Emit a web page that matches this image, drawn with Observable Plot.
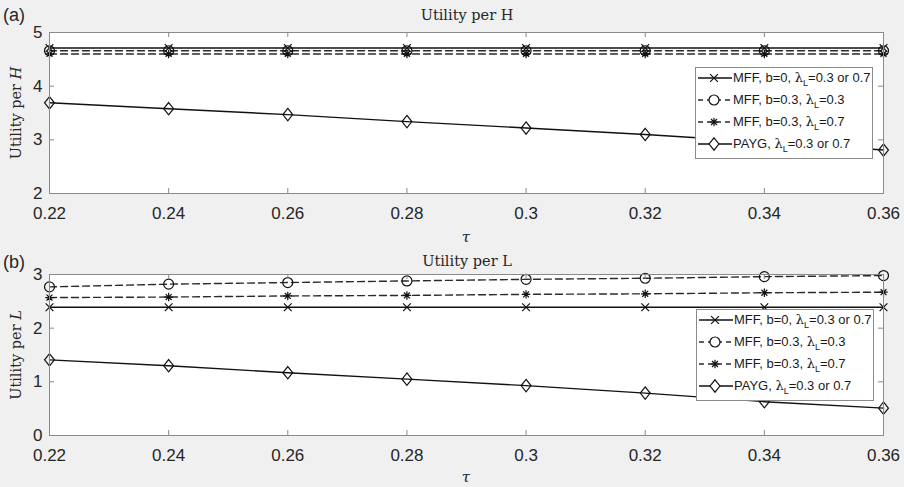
<!DOCTYPE html>
<html><head><meta charset="utf-8">
<script src="https://cdn.jsdelivr.net/npm/d3@7"></script>
<script src="https://cdn.jsdelivr.net/npm/@observablehq/plot@0.6"></script>
<style>
body{margin:0;background:#f0f0f0;}
#wrap{position:relative;width:904px;height:487px;background:#f0f0f0;overflow:hidden;font-family:"Liberation Sans",Arial,sans-serif;color:#262626}
.abs{position:absolute;white-space:nowrap;line-height:1}
.serif{font-family:"DejaVu Serif","Liberation Serif",serif}
.panel{position:absolute;left:0}
.legend{position:absolute;background:#fff;border:1px solid #8a8a8a;box-sizing:border-box}
.lrow{position:absolute;left:0;height:20px;width:100%}
.lrow > svg{position:absolute;left:1px;top:0}
.lrow > span{position:absolute;left:37px;top:3px;font-size:13px;line-height:1;color:#1a1a1a;white-space:nowrap}
.lam{font-family:"DejaVu Serif","Liberation Serif",serif;font-size:13px}
.sub{font-size:9px;position:relative;top:4px}
</style></head><body><div id="wrap"></div>
<script>
// ---------- data ----------
const tau = [0.22, 0.24, 0.26, 0.28, 0.30, 0.32, 0.34, 0.36];
const tauTickLabels = ["0.22", "0.24", "0.26", "0.28", "0.3", "0.32", "0.34", "0.36"];

const hTicks = [2, 3, 4, 5];
const hMffB0 = [4.71, 4.71, 4.71, 4.71, 4.71, 4.71, 4.71, 4.71];
const hMffB03L03 = [4.66, 4.66, 4.66, 4.66, 4.66, 4.66, 4.66, 4.66];
const hMffB03L07 = [4.60, 4.60, 4.60, 4.60, 4.60, 4.60, 4.60, 4.60];
const hPayg = [3.69, 3.58, 3.47, 3.34, 3.22, 3.10, 2.96, 2.81];

const lTicks = [0, 1, 2, 3];
const lMffB0 = [2.39, 2.39, 2.39, 2.39, 2.39, 2.39, 2.39, 2.39];
const lMffB03L03 = [2.77, 2.82, 2.85, 2.88, 2.91, 2.93, 2.96, 2.98];
const lMffB03L07 = [2.57, 2.58, 2.60, 2.61, 2.63, 2.64, 2.66, 2.67];
const lPayg = [1.41, 1.30, 1.17, 1.05, 0.93, 0.79, 0.63, 0.51];

const seriesNames = ["MFF, b=0, λL=0.3 or 0.7", "MFF, b=0.3, λL=0.3", "MFF, b=0.3, λL=0.7", "PAYG, λL=0.3 or 0.7"];

// ---------- symbols ----------
const star8 = {draw(ctx, size) {
  const r = Math.sqrt(size / Math.PI);
  for (let k = 0; k < 4; k++) {
    const a = k * Math.PI / 4, c = Math.cos(a) * r, s = Math.sin(a) * r;
    ctx.moveTo(-c, -s); ctx.lineTo(c, s);
  }
}};
const diamondM = {draw(ctx, size) {
  const h = Math.sqrt(size / 1.6), w = h * 0.8;
  ctx.moveTo(0, -h); ctx.lineTo(w, 0); ctx.lineTo(0, h); ctx.lineTo(-w, 0); ctx.closePath();
}};
const styles = [
  {symbol: "times", r: 3.6, dash: null, stroke: "#111"},
  {symbol: "circle", r: 5, dash: "7,4", stroke: "#2a2a2a"},
  {symbol: star8, r: 4.2, dash: "7,4", stroke: "#2a2a2a"},
  {symbol: diamondM, r: 4.4, dash: null, stroke: "#111"}
];

const W = 904, ML = 49, MR = 21;
const frameW = W - ML - MR;

function panel(values, yDomain, yTicks, height, marginTop, marginBottom) {
  const frameH = height - marginTop - marginBottom;
  const rows = values.map(vals => tau.map((t, i) => ({tau: t, v: vals[i]})));
  const tickColor = "#8a8a8a";
  return Plot.plot({
    width: W, height, marginLeft: ML, marginRight: MR, marginTop, marginBottom,
    style: {background: "transparent", fontFamily: "'Liberation Sans', Arial, sans-serif", fontSize: "17px", color: "#262626", overflow: "visible"},
    x: {domain: [0.22, 0.36]},
    y: {domain: yDomain},
    marks: [
      Plot.frame({fill: "white", stroke: null}),
      ...rows.map((r, k) => Plot.line(r, {x: "tau", y: "v", stroke: styles[k].stroke, strokeWidth: 1.4, strokeDasharray: styles[k].dash})),
      ...rows.map((r, k) => Plot.dot(r, {x: "tau", y: "v", symbol: styles[k].symbol, r: styles[k].r, stroke: "#111", fill: "none", strokeWidth: 1.2})),
      Plot.tickX(tau, {x: d => d, insetTop: frameH - 5, stroke: tickColor}),
      Plot.tickX(tau, {x: d => d, insetBottom: frameH - 5, stroke: tickColor}),
      Plot.tickY(yTicks, {y: d => d, insetRight: frameW - 5, stroke: tickColor}),
      Plot.tickY(yTicks, {y: d => d, insetLeft: frameW - 5, stroke: tickColor}),
      Plot.frame({stroke: tickColor}),
      Plot.axisX(tau, {tickSize: 0, tickPadding: 13, tickFormat: d => tauTickLabels[tau.indexOf(d)], label: null}),
      Plot.axisY(yTicks, {tickSize: 0, tickPadding: 7, tickFormat: d => String(d), label: null})
    ]
  });
}

const wrap = document.getElementById("wrap");
function place(el, top) { el.classList.add("panel"); el.style.top = top + "px"; wrap.appendChild(el); }
place(panel([hMffB0, hMffB03L03, hMffB03L07, hPayg], [2, 5], hTicks, 243, 32, 50), 0);
place(panel([lMffB0, lMffB03L03, lMffB03L07, lPayg], [0, 3], lTicks, 244, 31, 52), 243);

function text(html, cx, cy, size, cls, rotate) {
  const d = document.createElement("div");
  d.className = "abs " + (cls || "");
  d.innerHTML = html;
  d.style.left = cx + "px"; d.style.top = cy + "px"; d.style.fontSize = size + "px";
  d.style.transform = "translate(-50%,-50%)" + (rotate ? " rotate(" + rotate + "deg)" : "");
  wrap.appendChild(d);
}
text("(a)", 14, 15, 18);
text("(b)", 14, 262, 18);
text("Utility per H", 467, 15, 14.5, "serif");
text("Utility per L", 467, 261, 14.5, "serif");
text("<i>τ</i>", 466, 237, 15, "serif");
text("<i>τ</i>", 466, 477, 15, "serif");
text("Utility per <i>H</i>", 16, 113, 14.5, "serif", -90);
text("Utility per <i>L</i>", 16, 355, 14.5, "serif", -90);

function legend(left, top) {
  const box = document.createElement("div");
  box.className = "legend";
  Object.assign(box.style, {left: left + "px", top: top + "px", width: "178px", height: "92px"});
  seriesNames.forEach((name, k) => {
    const row = document.createElement("div");
    row.className = "lrow";
    row.style.top = (k * 22) + "px";
    const svg = d3.create("svg").attr("width", 36).attr("height", 20);
    svg.append("line").attr("x1", 1).attr("x2", 35).attr("y1", 10).attr("y2", 10)
      .attr("stroke", styles[k].stroke).attr("stroke-width", 1.3)
      .attr("stroke-dasharray", styles[k].dash ? "5,4" : null);
    const size = Math.PI * styles[k].r * styles[k].r;
    const sym = typeof styles[k].symbol === "string"
      ? {times: d3.symbolTimes, circle: d3.symbolCircle}[styles[k].symbol] : styles[k].symbol;
    svg.append("path").attr("d", d3.symbol(sym, size)()).attr("transform", "translate(17,10)")
      .attr("fill", k === 1 || k === 3 ? "white" : "none").attr("stroke", "#111").attr("stroke-width", 1.2);
    row.appendChild(svg.node());
    const sp = document.createElement("span");
    sp.innerHTML = name.replace("λL", '<span class="lam">λ</span><span class="sub">L</span>');
    row.appendChild(sp);
    box.appendChild(row);
  });
  wrap.appendChild(box);
}
legend(695, 67);
legend(696, 309);
</script></body></html>
